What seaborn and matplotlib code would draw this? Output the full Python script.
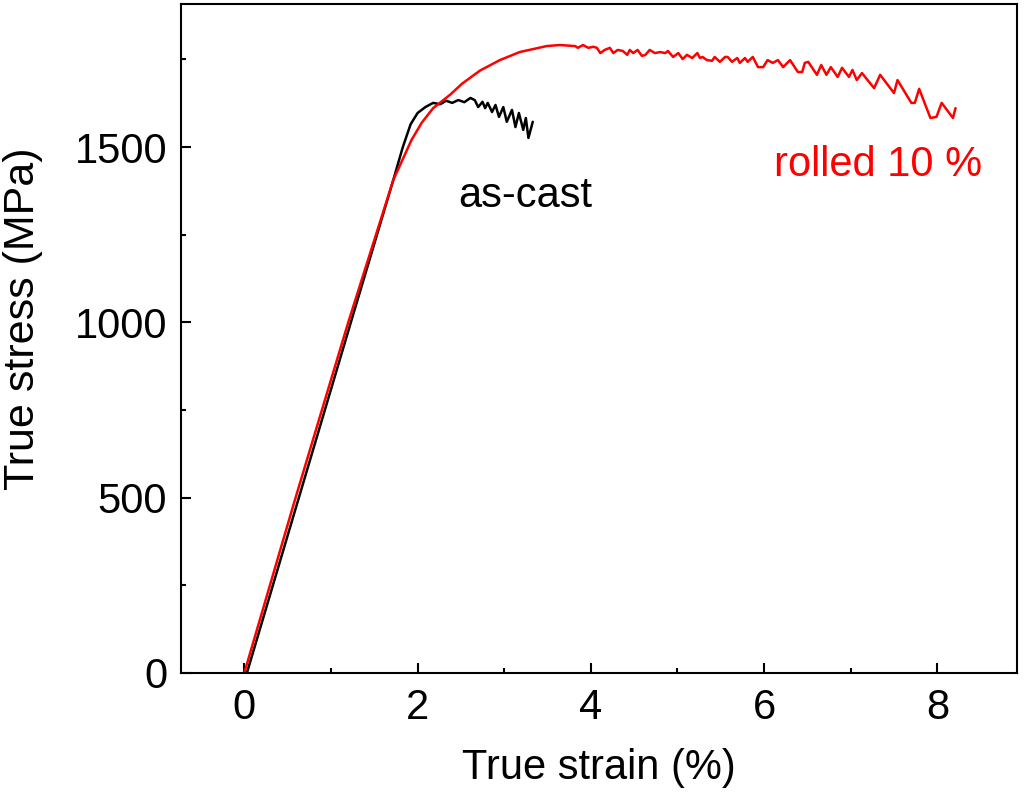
import matplotlib
matplotlib.use("Agg")
import matplotlib.pyplot as plt
import seaborn as sns
import pandas as pd
from matplotlib.ticker import MultipleLocator

# as-cast curve (true strain %, true stress MPa)
cast_strain = [0.03, 0.60, 1.23, 1.72, 1.83, 1.92, 2.00, 2.09, 2.18, 2.26, 2.33, 2.40,
               2.47, 2.54, 2.61, 2.66, 2.70, 2.75, 2.78, 2.81, 2.86, 2.90, 2.94, 2.99,
               3.03, 3.09, 3.13, 3.17, 3.22, 3.25, 3.28, 3.33]
cast_stress = [0, 475, 1000, 1406, 1500, 1565, 1597, 1614, 1626, 1622, 1632, 1626,
               1634, 1628, 1640, 1634, 1614, 1629, 1611, 1626, 1600, 1620, 1586, 1614,
               1572, 1606, 1557, 1597, 1549, 1583, 1526, 1572]

# rolled 10 % curve
rolled_strain = [0.00, 0.58, 1.20, 1.72, 1.93, 2.05, 2.18, 2.38, 2.51, 2.72, 2.95, 3.18,
                 3.49, 3.64, 3.82, 3.85, 3.91, 3.97, 4.03, 4.07, 4.11, 4.16, 4.22, 4.26,
                 4.31, 4.37, 4.42, 4.45, 4.49, 4.54, 4.59, 4.63, 4.68, 4.74, 4.80, 4.86,
                 4.89, 4.95, 5.01, 5.06, 5.11, 5.17, 5.23, 5.26, 5.29, 5.34, 5.40, 5.43,
                 5.49, 5.55, 5.58, 5.63, 5.69, 5.72, 5.78, 5.81, 5.87, 5.93, 5.99, 6.04,
                 6.10, 6.16, 6.22, 6.30, 6.39, 6.44, 6.47, 6.51, 6.61, 6.66, 6.72, 6.77,
                 6.85, 6.90, 6.98, 7.02, 7.07, 7.13, 7.27, 7.34, 7.50, 7.54, 7.70, 7.74,
                 7.79, 7.92, 7.99, 8.05, 8.18, 8.21]
rolled_stress = [0, 490, 1000, 1406, 1520, 1570, 1611, 1650, 1680, 1718, 1748, 1771,
                 1788, 1791, 1788, 1783, 1791, 1783, 1786, 1783, 1768, 1777, 1783, 1768,
                 1777, 1774, 1763, 1777, 1768, 1777, 1760, 1763, 1777, 1768, 1771, 1768,
                 1774, 1757, 1768, 1751, 1763, 1754, 1768, 1754, 1757, 1748, 1746, 1757,
                 1743, 1757, 1757, 1743, 1754, 1740, 1754, 1743, 1757, 1728, 1728, 1748,
                 1740, 1748, 1728, 1748, 1714, 1714, 1740, 1743, 1706, 1734, 1706, 1728,
                 1700, 1726, 1700, 1720, 1691, 1711, 1668, 1706, 1654, 1691, 1626, 1626,
                 1666, 1583, 1586, 1626, 1583, 1611]

cast_df = pd.DataFrame({"strain": cast_strain, "stress": cast_stress})
rolled_df = pd.DataFrame({"strain": rolled_strain, "stress": rolled_stress})

sns.set_style("ticks")
plt.rcParams["font.family"] = ["Liberation Sans", "DejaVu Sans"]
plt.rcParams["text.color"] = "black"
plt.rcParams["axes.labelcolor"] = "black"
plt.rcParams["xtick.color"] = "black"
plt.rcParams["ytick.color"] = "black"

fig = plt.figure(figsize=(10.24, 8), dpi=100)
ax = fig.add_axes([0.1768, 0.15875, 0.8164, 0.83625])

sns.lineplot(data=cast_df, x="strain", y="stress", sort=False, estimator=None,
             color="black", linewidth=1.8, ax=ax)
sns.lineplot(data=rolled_df, x="strain", y="stress", sort=False, estimator=None,
             color="red", linewidth=1.8, ax=ax)

ax.text(2.47, 1329, "as-cast", color="black", fontsize=30, ha="left", va="baseline")
ax.text(6.11, 1418, "rolled 10 %", color="red", fontsize=30, ha="left", va="baseline")

ax.set_xlim(-0.73, 8.92)
ax.set_ylim(0, 1908)
ax.xaxis.set_major_locator(MultipleLocator(2))
ax.xaxis.set_minor_locator(MultipleLocator(1))
ax.yaxis.set_major_locator(MultipleLocator(500))
ax.yaxis.set_minor_locator(MultipleLocator(250))
ax.tick_params(which="both", direction="in", width=1.5, labelsize=30, color="black",
               labelcolor="black")
ax.tick_params(which="major", length=7)
ax.tick_params(which="minor", length=3.5)
ax.tick_params(axis="x", which="major", pad=11)
ax.tick_params(axis="y", which="major", pad=10)
for s in ax.spines.values():
    s.set_linewidth(1.5)
    s.set_color("black")

ax.set_xlabel("True strain (%)", fontsize=30, labelpad=14)
ax.set_ylabel("True stress (MPa)", fontsize=31)
ax.yaxis.set_label_coords(-0.165, 0.53)

fig.savefig("out.png", dpi=100)
